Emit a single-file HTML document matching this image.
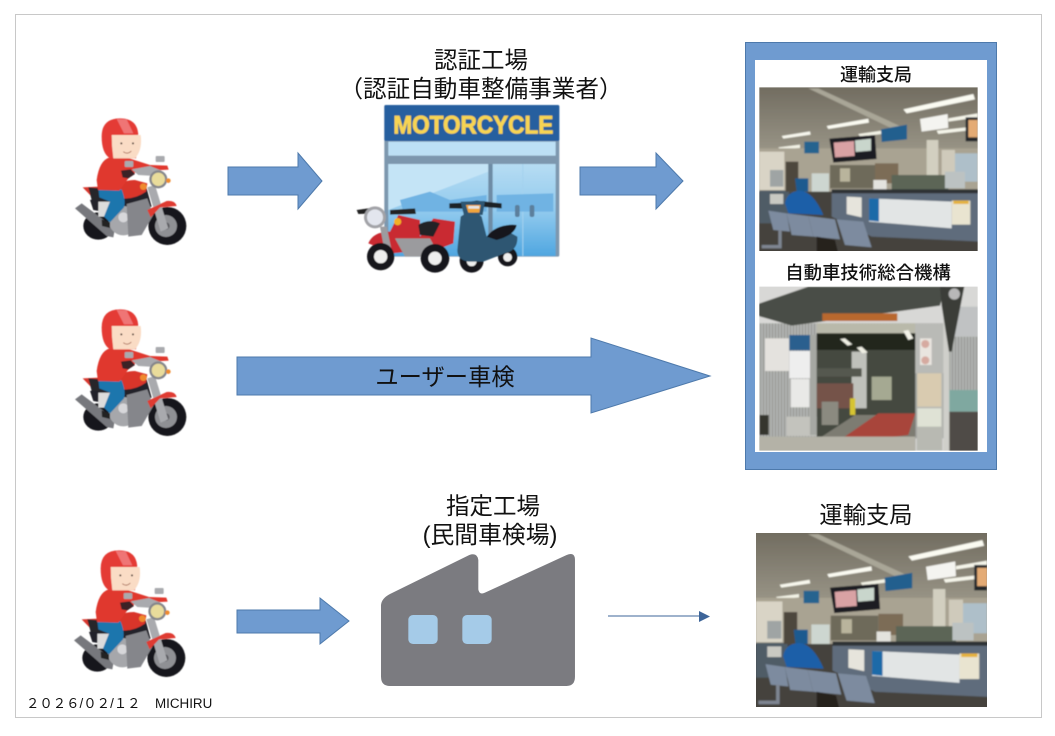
<!DOCTYPE html>
<html lang="ja">
<head>
<meta charset="utf-8">
<title>車検の流れ</title>
<style>
html,body{margin:0;padding:0;background:#fff;width:1055px;height:736px;overflow:hidden}
svg{display:block}
text{font-family:"Liberation Sans","Noto Sans CJK JP",sans-serif;fill:#111}
</style>
</head>
<body>
<svg width="1055" height="736" viewBox="0 0 1055 736" xmlns="http://www.w3.org/2000/svg">
<defs>
<filter id="soft" x="-5%" y="-5%" width="110%" height="110%"><feGaussianBlur stdDeviation="1.5"/></filter>
<filter id="photoBlur" x="-5%" y="-5%" width="110%" height="110%"><feGaussianBlur stdDeviation="2.6"/></filter>
<clipPath id="officeClip"><rect x="43" y="142" width="655" height="491"/></clipPath>
<clipPath id="laneClip"><rect x="43" y="95" width="655" height="492"/></clipPath>
<linearGradient id="ceil" x1="0" y1="0" x2="0" y2="1"><stop offset="0" stop-color="#6f6a5e"/><stop offset=".55" stop-color="#a9a596"/><stop offset="1" stop-color="#d0cec4"/></linearGradient>
<linearGradient id="glass" x1="0" y1="0" x2="0" y2="1"><stop offset="0" stop-color="#b6dcf3"/><stop offset=".5" stop-color="#93cbee"/><stop offset="1" stop-color="#4fa6e0"/></linearGradient>
<pattern id="slats" width="9" height="10" patternUnits="userSpaceOnUse"><rect width="9" height="10" fill="#b3b5b2"/><rect width="3" height="10" fill="#8e908c"/></pattern>

<g id="rider">
  <ellipse cx="115" cy="378" rx="45" ry="41" fill="#15151a"/>
  <circle cx="322" cy="378" r="57" fill="#15151a"/>
  <circle cx="318" cy="378" r="33" fill="#8f9094"/>
  <circle cx="318" cy="378" r="11" fill="#5b5c60"/>
  <path d="M45 325L65 310L165 385L160 412L140 408Z" fill="#77787d"/>
  <path d="M90 300L260 265L275 320L180 345L100 330Z" fill="#24242a"/>
  <rect x="115" y="305" width="38" height="45" fill="#dcdcdc"/>
  <circle cx="190" cy="362" r="44" fill="#a6a7ab"/>
  <circle cx="190" cy="352" r="15" fill="#d7d7da"/>
  <path d="M200 312L262 295L280 345L245 405L205 410Z" fill="#85868b"/>
  <path d="M262 262L285 255L325 385L302 395Z" fill="#a9aaae"/>
  <path d="M262 330L320 303Q345 300 350 318L300 322L272 352Z" fill="#df3a30"/>
  <path d="M68 262L115 260L140 290L95 290Z" fill="#d9382e"/>
  <path d="M85 262L165 268L175 300L95 300Z" fill="#27272b"/>
  <path d="M170 268Q180 240 225 240L262 250L258 275Q225 298 190 295Z" fill="#d9352c"/>
  <path d="M115 265L185 268Q198 300 192 322L150 367L132 350L150 305L118 292Z" fill="#1f76ad"/>
  <path d="M125 358L150 367L150 384L126 378Z" fill="#222"/>
  <path d="M110 240Q118 180 150 172L192 170L270 195L322 197L326 209L230 214L205 235L178 272L114 270Z" fill="#e0392f"/>
  <path d="M183 212L212 208L225 222L205 235L188 232Z" fill="#3b2125"/>
  <path d="M125 110Q125 55 180 55Q235 55 235 110L228 175H150Q125 160 125 110Z" fill="#e43a34"/>
  <path d="M170 57L200 58L220 100H192Z" fill="#ef7474"/>
  <path d="M155 105H242Q248 150 225 175H160Q155 140 155 105Z" fill="#fadcc5"/>
  <circle cx="184" cy="130" r="3" fill="#44332b"/><circle cx="219" cy="130" r="3" fill="#44332b"/>
  <path d="M190 155Q202 165 214 153" fill="none" stroke="#a0604a" stroke-width="2.5"/>
  <rect x="194" y="183" width="26" height="18" rx="3" fill="#a9aaae"/>
  <rect x="287" y="168" width="27" height="18" rx="3" fill="#a9aaae"/>
  <path d="M215 208L270 198L305 212L285 228L235 225Z" fill="#a9aaae"/>
  <circle cx="295" cy="238" r="27" fill="#85868b"/>
  <circle cx="295" cy="238" r="20" fill="#e9dc9b"/>
  <circle cx="250" cy="260" r="10" fill="#ee8a2e"/><circle cx="325" cy="242" r="7" fill="#ee8a2e"/>
</g>

<g id="shop">
  <rect x="133" y="195" width="525" height="455" rx="5" fill="#7d97ae"/>
  <rect x="133" y="195" width="525" height="108" rx="5" fill="#255f9f"/>
  <rect x="145" y="305" width="502" height="42" fill="#bde0f5"/>
  <rect x="145" y="372" width="502" height="276" fill="url(#glass)"/>
  <path d="M145 372H445V395L145 510Z" fill="#c4e4f6"/>
  <rect x="445" y="372" width="13" height="276" fill="#6e8ca5"/>
  <rect x="547" y="372" width="3" height="276" fill="#a4d2ee"/>
  <path d="M180 480L270 455L330 480L440 465V515H190Z" fill="#6fb3e3"/>
  <path d="M470 465L640 460V515H470Z" fill="#6fb3e3"/>
  <rect x="525" y="495" width="14" height="36" rx="6" fill="#5c7f9c"/>
  <rect x="569" y="495" width="14" height="36" rx="6" fill="#5c7f9c"/>
  <text x="160" y="281" font-size="74" font-weight="bold" textLength="480" lengthAdjust="spacingAndGlyphs" stroke="#f7d453" stroke-width="2.5" style="fill:#f7d453;font-family:'Liberation Sans',sans-serif">MOTORCYCLE</text>
  <path d="M85 610Q100 575 150 575L175 525L240 540L240 590L280 535L345 545L340 610L300 625L160 640Z" fill="#c92b30"/>
  <path d="M165 595H270L300 650H195Z" fill="#9b9b9e"/>
  <path d="M120 560L140 560L160 655H138Z" fill="#9c9ca0"/>
  <path d="M235 555Q265 535 300 550L280 590L240 585Z" fill="#202127"/>
  <path d="M50 510L100 503L110 520L55 522Z" fill="#222"/><path d="M150 510L225 505L228 522L150 524Z" fill="#222"/>
  <circle cx="122" cy="650" r="41" fill="#17171b"/><circle cx="122" cy="650" r="20" fill="#eee"/>
  <circle cx="285" cy="655" r="43" fill="#17171b"/><circle cx="285" cy="655" r="20" fill="#eee"/>
  <circle cx="105" cy="532" r="33" fill="#a2a3a7"/><circle cx="105" cy="532" r="24" fill="#e3e6ee"/>
  <circle cx="173" cy="545" r="11" fill="#f2b025"/>
  <circle cx="395" cy="662" r="36" fill="#17171b"/><circle cx="395" cy="664" r="15" fill="#eee"/>
  <circle cx="503" cy="650" r="29" fill="#17171b"/><circle cx="503" cy="652" r="13" fill="#eee"/>
  <path d="M352 630L362 530Q395 505 425 530L440 590L505 575L532 590Q535 630 495 640L430 665H385Q352 660 352 630Z" fill="#2f5672"/>
  <path d="M440 590Q470 550 530 555Q525 585 470 600Z" fill="#17191f"/>
  <path d="M328 490L375 488L410 482L485 490L485 505L420 500L365 506L328 505Z" fill="#1f2328"/>
  <path d="M362 485L435 483L428 525L372 527Z" fill="#2f5672"/>
  <path d="M378 495H422L418 518H385Z" fill="#f1a53b"/><path d="M385 498H418V506H385Z" fill="#e6e6e6"/>
</g>

<g id="office"><g clip-path="url(#officeClip)"><g filter="url(#photoBlur)">
  <rect x="30" y="130" width="680" height="515" fill="url(#ceil)"/>
  <path d="M190 145L220 145L480 265L440 265Z" fill="#a9a697"/>
  <path d="M475 208L685 162L690 178L485 220Z" fill="#fbfbf2"/>
  <path d="M245 258L370 236L372 248L250 267Z" fill="#fbfbf2"/>
  <path d="M110 288L195 274L197 284L115 296Z" fill="#f8f8ee"/>
  <path d="M100 322L165 314L165 324L105 330Z" fill="#f3f3e6"/>
  <path d="M340 282L410 272V282L345 290Z" fill="#f3f3e6"/>
  <path d="M575 272L665 262V272L580 282Z" fill="#f5f5ea"/>
  <path d="M610 235L698 220V232L610 245Z" fill="#f5f5ea"/>
  <rect x="30" y="325" width="680" height="135" fill="#a9a392"/>
  <rect x="43" y="335" width="75" height="115" fill="#d9d4c6"/>
  <rect x="75" y="390" width="40" height="50" fill="#9fa4a4"/>
  <rect x="630" y="340" width="68" height="85" fill="#aebfc9"/>
  <rect x="545" y="300" width="35" height="160" fill="#d2cfc0"/>
  <rect x="590" y="330" width="40" height="110" fill="#cfcabb"/>
  <rect x="390" y="370" width="70" height="60" fill="#7c6c57"/>
  <rect x="200" y="400" width="52" height="110" fill="#cdd6d0"/>
  <rect x="255" y="375" width="135" height="70" fill="#6e6a5a"/>
  <rect x="285" y="385" width="30" height="40" fill="#b9b49c"/>
  <rect x="385" y="420" width="40" height="30" fill="#e3e3de"/>
  <rect x="440" y="405" width="170" height="50" fill="#5b6557"/>
  <rect x="600" y="395" width="60" height="50" fill="#bcc2c2"/>
  <rect x="178" y="305" width="44" height="35" fill="#27648f"/>
  <path d="M408 268L486 254V298L410 306Z" fill="#245f8e"/>
  <path d="M525 237L608 222L610 264L530 275Z" fill="#f4f4f0"/>
  <rect x="662" y="232" width="36" height="72" fill="#23262c"/><rect x="670" y="240" width="28" height="52" fill="#e4ab74"/>
  <path d="M253 296L390 285L395 357L265 368Z" fill="#1a1c22"/>
  <path d="M266 308L327 303L329 348L270 352Z" fill="#d9a2a4"/>
  <path d="M330 301L378 296L378 332L332 336Z" fill="#c9d6cc"/>
  <rect x="30" y="455" width="680" height="190" fill="#45423c"/>
  <rect x="43" y="452" width="90" height="98" fill="#505b66"/>
  <rect x="75" y="462" width="40" height="30" fill="#c9c9c2"/>
  <path d="M260 450L710 458V605L380 590L260 530Z" fill="#5f6c7b"/>
  <rect x="260" y="448" width="450" height="12" fill="#2e3136"/>
  <path d="M372 475L620 485V565L372 545Z" fill="#e2e5e5"/>
  <path d="M372 475L402 476V545L372 542Z" fill="#1f6ba8"/>
  <rect x="620" y="482" width="56" height="72" fill="#e9e4d0"/><rect x="625" y="482" width="46" height="10" fill="#e5b23c"/>
  <path d="M305 470L350 472V532L305 522Z" fill="#e6e4dc"/>
  <rect x="122" y="365" width="38" height="90" fill="#4e463d"/>
  <path d="M150 415H190V455H155Z" fill="#1d5a8f"/>
  <path d="M120 490Q125 455 165 452Q205 455 235 525L130 520Z" fill="#1c5ea8"/>
  <path d="M70 512L125 520L135 575L85 570Z" fill="#7d8b9f"/>
  <path d="M125 520L190 528L205 590L140 585Z" fill="#7d8b9f"/>
  <path d="M190 528L270 538L285 598L205 590Z" fill="#7d8b9f"/>
  <path d="M275 538L355 545L380 622L300 615Z" fill="#7d8b9f"/>
  <path d="M100 570H110V625H50V615H100Z" fill="#7e8592"/>
  <path d="M215 590L270 600L280 640H215Z" fill="#25211f"/>
</g></g></g>

<g id="lane"><g clip-path="url(#laneClip)"><g filter="url(#photoBlur)">
  <rect x="30" y="85" width="680" height="515" fill="#d8d8d6"/>
  <rect x="610" y="155" width="100" height="90" fill="#c0c2c3"/>
  <rect x="610" y="245" width="100" height="160" fill="url(#slats)"/>
  <rect x="612" y="405" width="98" height="65" fill="#7fa8a0"/>
  <rect x="612" y="470" width="98" height="130" fill="#4f4c47"/>
  <rect x="43" y="205" width="560" height="345" fill="url(#slats)"/>
  <path d="M30 150L190 95H600L585 152L140 212L30 180Z" fill="#4a4d46"/>
  <rect x="215" y="205" width="296" height="35" fill="#b9b9aa"/>
  <rect x="232" y="175" width="225" height="23" fill="#b8682e"/>
  <rect x="215" y="235" width="296" height="320" fill="#45483f"/>
  <path d="M215 235H511V285H215Z" fill="#23251f"/>
  <rect x="320" y="290" width="45" height="170" fill="#bfc1bb"/>
  <rect x="380" y="365" width="60" height="70" fill="#a5a992"/>
  <rect x="215" y="385" width="110" height="75" fill="#74524a"/>
  <rect x="230" y="440" width="50" height="70" fill="#8b8a80"/>
  <rect x="215" y="340" width="135" height="25" fill="#55584f"/>
  <rect x="315" y="430" width="16" height="50" fill="#d6c431"/>
  <path d="M215 555L330 480H511V587H215Z" fill="#7d7c72"/>
  <path d="M285 555L400 475H511L490 540L350 558Z" fill="#a8453a"/>
  <path d="M30 545H511V600H30Z" fill="#b4b2a7"/>
  <rect x="60" y="250" width="72" height="98" fill="#e4e2de"/>
  <rect x="133" y="240" width="68" height="46" fill="#2b5f8e"/>
  <rect x="133" y="288" width="62" height="82" fill="#eeeeee"/>
  <rect x="137" y="372" width="56" height="85" fill="#e9e9e7"/>
  <rect x="125" y="485" width="90" height="58" fill="#c3c3bd"/>
  <rect x="43" y="480" width="28" height="60" fill="#35342f"/>
  <rect x="195" y="240" width="20" height="300" fill="#a6a8a3"/>
  <rect x="511" y="205" width="88" height="150" fill="#b9bab6"/>
  <rect x="525" y="250" width="35" height="80" fill="#e9e5df"/>
  <circle cx="541" cy="267" r="12" fill="#d6aaa0"/><circle cx="541" cy="316" r="12" fill="#d6aaa0"/>
  <rect x="515" y="352" width="77" height="235" fill="#b8b9b2"/>
  <rect x="517" y="355" width="72" height="100" fill="#d9cbb0"/>
  <rect x="517" y="460" width="72" height="55" fill="#dfe2d5"/>
  <rect x="595" y="150" width="18" height="450" fill="#cfcfca"/>
  <path d="M585 95H658L620 290H612L590 152Z" fill="#3a3d38"/>
  <circle cx="628" cy="117" r="17" fill="#b8b8b8"/>
  <path d="M475 228L490 225L505 250L490 255Z" fill="#f3f3e8"/>
  <path d="M285 252L300 250L322 268L308 272Z" fill="#efefe3"/>
  <path d="M335 278L350 275L368 292L352 295Z" fill="#efefe3"/>
</g></g></g>
</defs>

<rect x="15.5" y="14.5" width="1026" height="703" fill="#fff" stroke="#c8c8c8" stroke-width="1"/>

<!-- riders -->
<g filter="url(#soft)" transform="translate(60 100) scale(.3333)"><use href="#rider"/></g>
<g filter="url(#soft)" transform="translate(60 291) scale(.3333)"><use href="#rider"/></g>
<g filter="url(#soft)" transform="translate(59 532) scale(.3333)"><use href="#rider"/></g>

<!-- arrows -->
<g fill="#6f9bd0" stroke="#4d79ab" stroke-width="1">
  <path d="M228 167H298V153L322 181L298 209V195H228Z"/>
  <path d="M580 167H656V153L683 181L656 209V195H580Z"/>
  <path d="M237 357H591V338L710 376L591 413V395H237Z"/>
  <path d="M237 610H320V598L349 621L320 644V633H237Z"/>
</g>
<line x1="608" y1="616" x2="700" y2="616" stroke="#3d6599" stroke-width="1"/>
<path d="M699 611L710 616.5L699 622Z" fill="#3d6599"/>

<!-- shop -->
<g filter="url(#soft)" transform="translate(340 40) scale(.3333)"><use href="#shop"/></g>
<text x="481" y="68" font-size="23.5" text-anchor="middle">認証工場</text>
<text x="481" y="97" font-size="23.6" text-anchor="middle">（認証自動車整備事業者）</text>

<!-- right panel -->
<rect x="745.5" y="42.5" width="251" height="427" fill="#6f9bd0" stroke="#4d79ab"/>
<rect x="755" y="60" width="232" height="392" fill="#fff"/>
<text x="876" y="81" font-size="18" font-weight="500" text-anchor="middle">運輸支局</text>
<use href="#office" transform="translate(745 40) scale(.3333)"/>
<text x="868" y="279" font-size="18.4" font-weight="500" text-anchor="middle">自動車技術総合機構</text>
<use href="#lane" transform="translate(745 255) scale(.3333)"/>

<text x="445" y="385" font-size="23.3" text-anchor="middle">ユーザー車検</text>

<!-- factory -->
<text x="493" y="514" font-size="23.5" text-anchor="middle">指定工場</text>
<text x="490" y="543" font-size="23.8" text-anchor="middle">(民間車検場)</text>
<g transform="translate(370 490) scale(.3333)">
  <path d="M33 345Q35 325 60 312L298 195Q322 187 325 210V298Q328 316 345 308L590 195Q615 185 615 210V560Q615 588 590 588H60Q33 588 33 560Z" fill="#7b7b80"/>
  <rect x="115" y="375" width="88" height="87" rx="14" fill="#a5cbe8"/>
  <rect x="277" y="375" width="88" height="87" rx="14" fill="#a5cbe8"/>
</g>

<!-- bottom right -->
<text x="866" y="523" font-size="23.3" text-anchor="middle">運輸支局</text>
<use href="#office" transform="translate(740.8 482.7) scale(.3527 .3544)"/>

<text x="26" y="708" font-size="13.4">２０２６/０２/１２</text>
<text x="155" y="708" font-size="13.4">MICHIRU</text>
</svg>
</body>
</html>
